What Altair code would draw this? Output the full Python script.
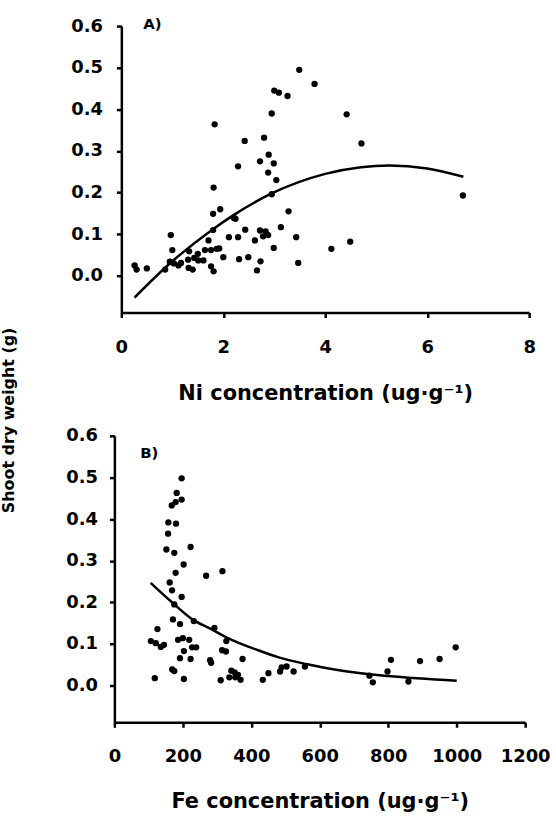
import altair as alt
import pandas as pd

# ---------------- data ----------------
ni_x = [0.26, 0.30, 0.50, 0.86, 0.97, 1.00, 0.95, 1.03, 1.12, 1.17,
        1.33, 1.31, 1.32, 1.40, 1.43, 1.50, 1.51, 1.61, 1.64, 1.71,
        1.76, 1.76, 1.81, 1.80, 1.80, 1.81, 1.83, 1.94, 1.87, 1.92,
        2.00, 2.11, 2.21, 2.24, 2.29, 2.31, 2.29, 2.42, 2.43, 2.49,
        2.62, 2.66, 2.73, 2.72, 2.78, 2.83, 2.88, 2.72, 2.80, 2.89,
        2.99, 2.88, 3.04, 2.95, 2.95, 3.00, 3.09, 3.26, 2.99, 3.13,
        3.28, 3.43, 3.47, 3.49, 3.79, 4.42, 4.71, 6.70, 4.49, 4.12]
ni_y = [0.025, 0.015, 0.018, 0.015, 0.098, 0.062, 0.034, 0.030, 0.025, 0.031,
        0.059, 0.039, 0.019, 0.015, 0.043, 0.053, 0.037, 0.037, 0.062, 0.085,
        0.062, 0.023, 0.011, 0.110, 0.149, 0.212, 0.364, 0.160, 0.065, 0.066,
        0.045, 0.093, 0.139, 0.137, 0.093, 0.040, 0.263, 0.324, 0.111, 0.045,
        0.085, 0.013, 0.035, 0.109, 0.095, 0.107, 0.098, 0.275, 0.332, 0.291,
        0.270, 0.248, 0.230, 0.196, 0.390, 0.445, 0.440, 0.432, 0.067, 0.117,
        0.155, 0.093, 0.031, 0.495, 0.461, 0.388, 0.318, 0.193, 0.082, 0.065]

fe_x = [196.5, 182, 196.5, 167.5, 179, 157.7, 180, 156.8, 151.9, 175,
        222.6, 202.3, 179, 268, 315.6, 161.6, 168.4, 196.5, 175, 171,
        191.6, 232, 125.8, 292.2, 106.5, 121, 135.5, 145, 185.8, 200,
        218.6, 203, 227, 239, 191.6, 222.6, 169, 175, 118, 203,
        314.5, 326, 327, 279.6, 282.6, 374.5, 310.6, 341.6, 351.3, 335.9,
        361, 353.3, 368.7, 433.5, 450, 484, 488.7, 503, 523.5, 556.5,
        745, 755, 798, 808, 859, 893, 950, 997]
fe_y = [0.498, 0.463, 0.447, 0.433, 0.441, 0.392, 0.389, 0.365, 0.327, 0.319,
        0.333, 0.291, 0.271, 0.264, 0.275, 0.248, 0.229, 0.213, 0.195, 0.159,
        0.148, 0.155, 0.136, 0.139, 0.107, 0.102, 0.093, 0.098, 0.110, 0.114,
        0.110, 0.083, 0.092, 0.092, 0.066, 0.064, 0.039, 0.035, 0.018, 0.016,
        0.085, 0.082, 0.107, 0.061, 0.055, 0.064, 0.013, 0.036, 0.032, 0.020,
        0.026, 0.020, 0.014, 0.014, 0.030, 0.034, 0.044, 0.046, 0.034, 0.046,
        0.024, 0.008, 0.034, 0.062, 0.010, 0.059, 0.064, 0.092]

# fitted curves
ni_fit_x = [0.26, 1.0, 1.75, 2.2, 2.95, 4.0, 4.7, 5.25, 6.0, 6.71]
ni_fit_y = [-0.052, 0.035, 0.108, 0.146, 0.198, 0.245, 0.261, 0.265, 0.258, 0.238]
fe_fit_x = [106, 170, 230, 280, 330, 420, 480, 560, 670, 800, 1000]
fe_fit_y = [0.247, 0.199, 0.158, 0.137, 0.115, 0.085, 0.068, 0.052, 0.035, 0.023, 0.012]

y_ticks = [0.0, 0.1, 0.2, 0.3, 0.4, 0.5, 0.6]
ni_ticks = [0, 2, 4, 6, 8]
fe_ticks = [0, 200, 400, 600, 800, 1000, 1200]
panel_a_label = ["A)"]
panel_b_label = ["B)"]

# ---------------- styling ----------------
FONT = "DejaVu Sans"
Y_DOMAIN = [-0.088, 0.6]
H = 288

common_axis = dict(
    grid=False, domainColor="black", domainWidth=2.5, tickColor="black",
    tickWidth=2.5, tickSize=5, labelFont=FONT, labelFontSize=18,
    labelFontWeight="bold", labelColor="black", titleFont=FONT,
    titleFontSize=21, titleFontWeight="bold", titleColor="black",
    labelOverlap=False, labelFlush=False,
)

# ---------------- panel A ----------------
ni_df = pd.DataFrame({"x": ni_x, "y": ni_y})
ni_fit = pd.DataFrame({"x": ni_fit_x, "y": ni_fit_y})

WA = 417
xa = alt.X("x:Q", scale=alt.Scale(domain=[0, 8], range=[7, WA], nice=False, zero=False),
           axis=alt.Axis(values=ni_ticks, format="d", title="Ni concentration (ug·g⁻¹)",
                         labelPadding=21, titlePadding=26, **common_axis))
ya = alt.Y("y:Q", scale=alt.Scale(domain=Y_DOMAIN, nice=False, zero=False),
           axis=alt.Axis(values=y_ticks, format=".1f", title=None, offset=-7,
                         labelPadding=14, **common_axis))

pts_a = alt.Chart(ni_df).mark_circle(size=40, color="black", opacity=1).encode(x=xa, y=ya)
line_a = alt.Chart(ni_fit).mark_line(color="black", strokeWidth=2.5, interpolate="monotone").encode(
    x=alt.X("x:Q"), y=alt.Y("y:Q"))
lab_a = alt.Chart(pd.DataFrame({"t": panel_a_label})).mark_text(
    font=FONT, fontSize=15, fontWeight="bold", color="black", align="left", baseline="alphabetic"
).encode(text="t:N", x=alt.value(29), y=alt.value(3))

panel_a = alt.layer(pts_a, line_a, lab_a).properties(width=WA, height=H)

# ---------------- panel B ----------------
fe_df = pd.DataFrame({"x": fe_x, "y": fe_y})
fe_fit = pd.DataFrame({"x": fe_fit_x, "y": fe_fit_y})

WB = 413
xb = alt.X("x:Q", scale=alt.Scale(domain=[0, 1200], nice=False, zero=False),
           axis=alt.Axis(values=fe_ticks, format="d", title="Fe concentration (ug·g⁻¹)",
                         labelPadding=20, titlePadding=26, **common_axis))
yb = alt.Y("y:Q", scale=alt.Scale(domain=Y_DOMAIN, nice=False, zero=False),
           axis=alt.Axis(values=y_ticks, format=".1f", title="Shoot dry weight (g)",
                         labelPadding=12, titleX=-98, titleY=-16, titleAngle=270,
                         titleAlign="center", titleBaseline="bottom", titleFontSize=16,
                         **{k: v for k, v in common_axis.items() if k != "titleFontSize"}))

pts_b = alt.Chart(fe_df).mark_circle(size=40, color="black", opacity=1).encode(x=xb, y=yb)
line_b = alt.Chart(fe_fit).mark_line(color="black", strokeWidth=2.5, interpolate="monotone").encode(
    x=alt.X("x:Q"), y=alt.Y("y:Q"))
lab_b = alt.Chart(pd.DataFrame({"t": panel_b_label})).mark_text(
    font=FONT, fontSize=15, fontWeight="bold", color="black", align="left", baseline="alphabetic"
).encode(text="t:N", x=alt.value(26), y=alt.value(22))

panel_b = alt.layer(pts_b, line_b, lab_b).properties(width=WB, height=H)

chart = alt.vconcat(panel_a, panel_b, spacing=124, bounds="flush").properties(
    padding={"left": 0, "top": 15, "right": 5, "bottom": 0},
    background="white",
).configure_view(stroke=None)

chart.save("out.html", embed_options={"renderer": "svg", "actions": False})
